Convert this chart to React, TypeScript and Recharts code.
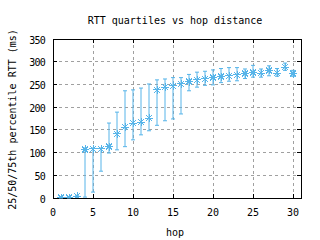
import React from 'react';
import {
  ComposedChart,
  Scatter,
  ErrorBar,
  XAxis,
  YAxis,
  CartesianGrid,
  ReferenceArea,
} from 'recharts';

const hops = [1, 2, 3, 4, 5, 6, 7, 8, 9, 10, 11, 12, 13, 14, 15, 16, 17, 18, 19, 20, 21, 22, 23, 24, 25, 26, 27, 28, 29, 30];
const median = [1, 1, 4, 107, 108, 108, 113, 141, 156, 165, 167, 176, 238, 244, 247, 251, 256, 260, 262, 265, 267, 269, 271, 274, 276, 275, 281, 275, 288, 274];
const q1 = [0, 0, 1, 2, 13, 59, 99, 106, 113, 128, 139, 148, 160, 170, 174, 185, 236, 244, 248, 249, 254, 257, 258, 263, 266, 266, 269, 268, 281, 268];
const q3 = [2, 2, 6, 110, 110, 110, 165, 189, 236, 238, 242, 251, 260, 262, 265, 265, 272, 277, 279, 282, 285, 287, 287, 284, 292, 284, 291, 285, 297, 281];

const xTicks = [0, 5, 10, 15, 20, 25, 30];
const yTicks = [0, 50, 100, 150, 200, 250, 300, 350];

const TITLE = 'RTT quartiles vs hop distance';
const X_LABEL = 'hop';
const Y_LABEL = '25/50/75th percentile RTT (ms)';

const COLOR = '#56b4e9';
const FONT = '"DejaVu Sans Mono", "Liberation Mono", monospace';

const W = 320;
const H = 240;
const M = { top: 39, right: 19, bottom: 12, left: 0 };
const Y_AXIS_W = 53;
const X_AXIS_H = 30;
const PLOT_TOP = M.top;
const PLOT_BOTTOM = H - M.bottom - X_AXIS_H;
const PLOT_LEFT = M.left + Y_AXIS_W;
const PLOT_RIGHT = W - M.right;
const TICK_LEN = 4;

const data = hops.map((h, i) => ({
  hop: h,
  median: median[i],
  err: [median[i] - q1[i], q3[i] - median[i]],
}));

const Star = (props: any) => {
  const { cx, cy } = props;
  if (cx == null || cy == null) return null;
  const r = 4;
  const d = 3;
  return (
    <g stroke={COLOR} strokeWidth={1} shapeRendering="crispEdges">
      <line x1={cx - r} x2={cx + r} y1={cy} y2={cy} />
      <line x1={cx} x2={cx} y1={cy - r} y2={cy + r} />
      <line x1={cx - d} x2={cx + d} y1={cy - d} y2={cy + d} />
      <line x1={cx - d} x2={cx + d} y1={cy + d} y2={cy - d} />
      <rect x={cx - 1} y={cy - 1} width={2} height={2} fill={COLOR} stroke="none" />
    </g>
  );
};

const XTick = (props: any) => {
  const { x, payload } = props;
  return (
    <g>
      <line x1={x} x2={x} y1={PLOT_BOTTOM} y2={PLOT_BOTTOM - TICK_LEN} stroke="#000" shapeRendering="crispEdges" />
      <line x1={x} x2={x} y1={PLOT_TOP} y2={PLOT_TOP + TICK_LEN} stroke="#000" shapeRendering="crispEdges" />
      <text x={x} y={PLOT_BOTTOM + 14} dy="0.35em" textAnchor="middle" fontFamily={FONT} fontSize={10} fill="#000">
        {payload.value}
      </text>
    </g>
  );
};

const YTick = (props: any) => {
  const { y, payload } = props;
  return (
    <g>
      <line x1={PLOT_LEFT} x2={PLOT_LEFT + TICK_LEN} y1={y} y2={y} stroke="#000" shapeRendering="crispEdges" />
      <line x1={PLOT_RIGHT} x2={PLOT_RIGHT - TICK_LEN} y1={y} y2={y} stroke="#000" shapeRendering="crispEdges" />
      <text x={45} y={y + 1} dy="0.35em" textAnchor="end" fontFamily={FONT} fontSize={10} letterSpacing={-0.8} fill="#000">
        {payload.value}
      </text>
    </g>
  );
};

export default function App() {
  const midX = (PLOT_LEFT + PLOT_RIGHT) / 2;
  const midY = (PLOT_TOP + PLOT_BOTTOM) / 2 + 1;
  return (
    <div style={{ position: 'absolute', left: 0, top: 0, width: W, height: H, background: '#fff' }}>
      <ComposedChart width={W} height={H} data={data} margin={M}>
        <CartesianGrid
          stroke="#a0a0a0"
          strokeDasharray="3 3"
          horizontalValues={yTicks}
          verticalValues={xTicks}
          shapeRendering="crispEdges"
        />
        <XAxis
          type="number"
          dataKey="hop"
          domain={[0, 31]}
          ticks={xTicks}
          allowDataOverflow
          axisLine={false}
          tickLine={false}
          height={X_AXIS_H}
          tick={<XTick />}
          interval={0}
        />
        <YAxis
          type="number"
          domain={[0, 350]}
          ticks={yTicks}
          allowDataOverflow
          axisLine={false}
          tickLine={false}
          width={Y_AXIS_W}
          tick={<YTick />}
          interval={0}
        />
        <ReferenceArea x1={0} x2={31} y1={0} y2={350} fill="none" stroke="#000" strokeWidth={1} ifOverflow="visible" shapeRendering="crispEdges" />
        <Scatter dataKey="median" shape={<Star />} isAnimationActive={false}>
          <ErrorBar dataKey="err" direction="y" width={2} stroke={COLOR} strokeWidth={1} isAnimationActive={false} />
        </Scatter>
      </ComposedChart>
      <svg width={W} height={H} style={{ position: 'absolute', left: 0, top: 0, pointerEvents: 'none' }}>
        <text x={midX - 2} y={20} dy="0.35em" textAnchor="middle" fontFamily={FONT} fontSize={10} fill="#000">
          {TITLE}
        </text>
        <text x={midX - 2} y={232} dy="0.35em" textAnchor="middle" fontFamily={FONT} fontSize={10} fill="#000">
          {X_LABEL}
        </text>
        <text
          x={12}
          y={midY}
          dy="0.35em"
          textAnchor="middle"
          fontFamily={FONT}
          fontSize={10}
          fill="#000"
          transform={`rotate(-90 12 ${midY})`}
        >
          {Y_LABEL}
        </text>
      </svg>
    </div>
  );
}
